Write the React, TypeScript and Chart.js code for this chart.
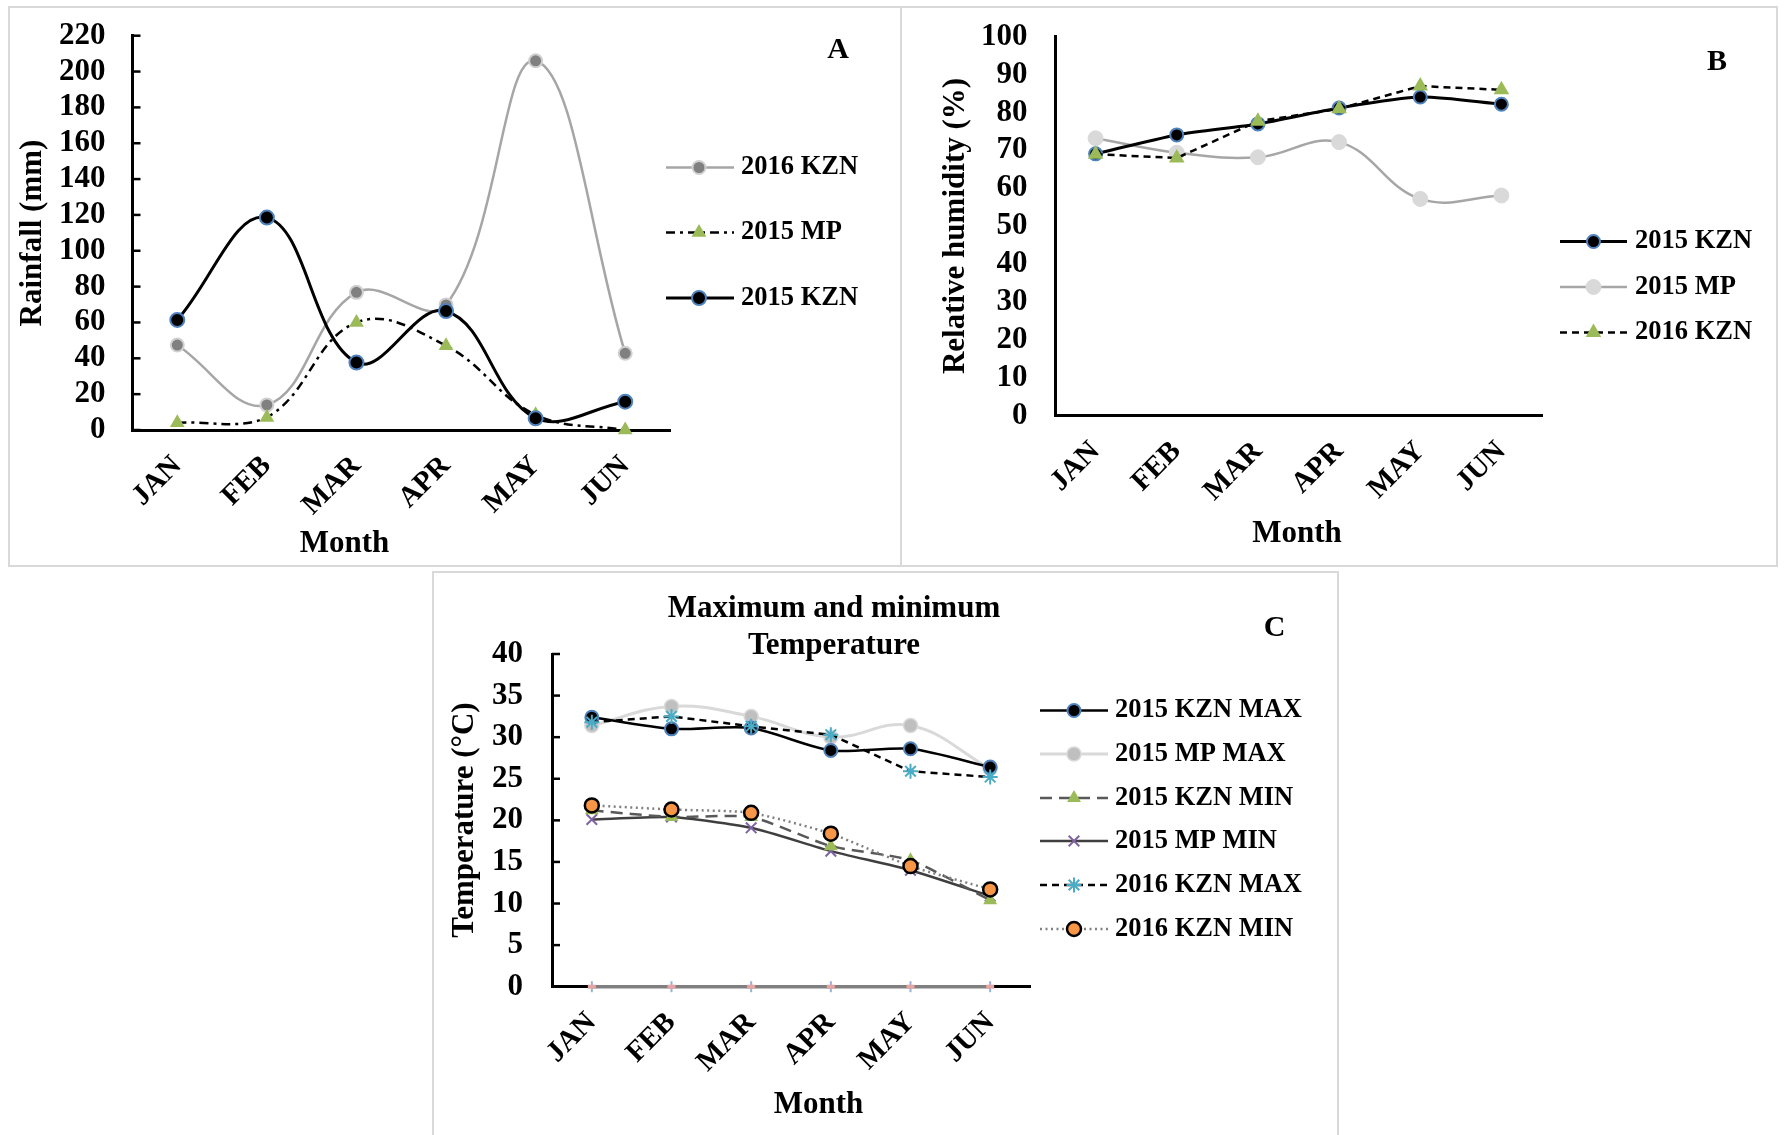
import React, { useEffect, useRef } from 'react';
import { Chart, registerables } from 'chart.js';
import { drawPoint } from 'chart.js/helpers';

Chart.register(...registerables);

// ---------- data ----------
const MONTHS = ['JAN', 'FEB', 'MAR', 'APR', 'MAY', 'JUN'];

// A: rainfall (mm)
const RAIN_AXIS = [0, 220, 20]; // min, max, step
const RAIN_2016_KZN = [47.4, 14.0, 76.8, 69.8, 206.0, 42.8];
const RAIN_2015_MP = [4.0, 7.0, 60.0, 47.0, 8.5, 0.0];
const RAIN_2015_KZN = [61.4, 118.5, 37.6, 66.4, 6.5, 15.8];

// B: relative humidity (%)
const RH_AXIS = [0, 100, 10];
const RH_2015_KZN = [69.1, 74.1, 77.0, 81.2, 84.1, 82.2];
const RH_2015_MP = [73.2, 69.4, 68.2, 72.2, 57.2, 58.1];
const RH_2016_KZN = [69.0, 68.0, 77.7, 81.0, 87.0, 86.0];

// C: maximum and minimum temperature (°C)
const TEMP_AXIS = [0, 40, 5];
const T_2015_KZN_MAX = [32.4, 31.0, 31.1, 28.4, 28.6, 26.4];
const T_2015_MP_MAX = [31.4, 33.7, 32.5, 30.0, 31.4, 26.2];
const T_2015_KZN_MIN = [21.2, 20.4, 20.4, 16.9, 15.2, 10.4];
const T_2015_MP_MIN = [20.1, 20.4, 19.1, 16.3, 14.0, 10.9];
const T_2016_KZN_MAX = [31.8, 32.5, 31.3, 30.3, 25.9, 25.2];
const T_2016_KZN_MIN = [21.8, 21.3, 20.9, 18.4, 14.5, 11.7];
// series without readings, plotted on the zero line
const T_2016_MP_MAX = [0, 0, 0, 0, 0, 0];
const T_2016_MP_MIN = [0, 0, 0, 0, 0, 0];

// ---------- styling ----------
const FONT = "'Liberation Serif', 'Times New Roman', Times, serif";
const BORDER = 2;
const GREEN = '#9bbb59';
const BLUE_EDGE = '#4f81bd';

type Txt = { text: string; x: number; y: number; size: number; rotate?: number; baseline?: CanvasTextBaseline };
type LegendSpec = { x0: number; x1: number; mx: number; tx: number; rows: number[]; size: number };
type PanelSpec = {
  key: string;
  box: { left: number; top: number; width: number; height: number };
  area: { left: number; top: number; right: number; bottom: number };
  yAxis: number[];
  yTickPad: number;
  innerTicks: number;
  texts: Txt[];
  legend: LegendSpec;
  datasets: any[];
};

const line = (label: string, data: number[], style: any) => ({
  label,
  data,
  fill: false,
  clip: false,
  pointHoverRadius: style.pointRadius,
  ...style,
});

const PANEL_A: PanelSpec = {
  key: 'A',
  box: { left: 8, top: 6, width: 894, height: 561 },
  area: { left: 132.5, top: 35.7, right: 670, bottom: 430 },
  yAxis: RAIN_AXIS,
  yTickPad: 27,
  innerTicks: 8,
  texts: [
    { text: 'Rainfall (mm)', x: 33, y: 233, size: 31, rotate: -90 },
    { text: 'Month', x: 344.5, y: 552, size: 31, baseline: 'alphabetic' },
    { text: 'A', x: 838, y: 58, size: 30, baseline: 'alphabetic' },
  ],
  legend: { x0: 666, x1: 734, mx: 699, tx: 741, rows: [167.5, 232.5, 298], size: 26.5 },
  datasets: [
    line('2016 KZN', RAIN_2016_KZN, {
      borderColor: '#a6a6a6', borderWidth: 2.5, tension: 0.4,
      pointStyle: 'circle', pointRadius: 6.5, pointBackgroundColor: '#808080',
      pointBorderColor: '#d0d0d0', pointBorderWidth: 2, order: 2,
    }),
    line('2015 MP', RAIN_2015_MP, {
      borderColor: '#000', borderWidth: 2.5, borderDash: [9, 5, 3, 5], tension: 0.4,
      pointStyle: 'triangle', pointRadius: 8.5, pointBackgroundColor: GREEN,
      pointBorderColor: GREEN, pointBorderWidth: 0, order: 1,
    }),
    line('2015 KZN', RAIN_2015_KZN, {
      borderColor: '#000', borderWidth: 3, tension: 0.4,
      pointStyle: 'circle', pointRadius: 7, pointBackgroundColor: '#000',
      pointBorderColor: BLUE_EDGE, pointBorderWidth: 2, order: 0,
    }),
  ],
};

const PANEL_B: PanelSpec = {
  key: 'B',
  box: { left: 900, top: 6, width: 878, height: 561 },
  area: { left: 1055, top: 36.8, right: 1542, bottom: 415.6 },
  yAxis: RH_AXIS,
  yTickPad: 27.5,
  innerTicks: 0,
  texts: [
    { text: 'Relative humidity (%)', x: 956, y: 226, size: 31, rotate: -90 },
    { text: 'Month', x: 1297, y: 542, size: 31, baseline: 'alphabetic' },
    { text: 'B', x: 1717, y: 69.5, size: 30, baseline: 'alphabetic' },
  ],
  legend: { x0: 1560, x1: 1627, mx: 1593.5, tx: 1635, rows: [241.5, 287, 332.5], size: 26.5 },
  datasets: [
    line('2015 KZN', RH_2015_KZN, {
      borderColor: '#000', borderWidth: 3, tension: 0.25,
      pointStyle: 'circle', pointRadius: 6.5, pointBackgroundColor: '#000',
      pointBorderColor: BLUE_EDGE, pointBorderWidth: 2, order: 1,
    }),
    line('2015 MP', RH_2015_MP, {
      borderColor: '#a6a6a6', borderWidth: 2.5, tension: 0.4,
      pointStyle: 'circle', pointRadius: 7.5, pointBackgroundColor: '#d9d9d9',
      pointBorderColor: '#d9d9d9', pointBorderWidth: 1, order: 2,
    }),
    line('2016 KZN', RH_2016_KZN, {
      borderColor: '#000', borderWidth: 2.5, borderDash: [7, 5], tension: 0,
      pointStyle: 'triangle', pointRadius: 9, pointBackgroundColor: GREEN,
      pointBorderColor: GREEN, pointBorderWidth: 0, order: 0,
    }),
  ],
};

const PANEL_C: PanelSpec = {
  key: 'C',
  box: { left: 432, top: 571, width: 907, height: 600 },
  area: { left: 552, top: 654, right: 1030, bottom: 986.7 },
  yAxis: TEMP_AXIS,
  yTickPad: 29,
  innerTicks: 8,
  texts: [
    { text: 'Maximum and minimum', x: 834, y: 617, size: 31, baseline: 'alphabetic' },
    { text: 'Temperature', x: 834, y: 654, size: 31, baseline: 'alphabetic' },
    { text: 'C', x: 1274.5, y: 636, size: 30, baseline: 'alphabetic' },
    { text: 'Temperature (°C)', x: 465, y: 820, size: 31, rotate: -90 },
    { text: 'Month', x: 818.5, y: 1113, size: 31, baseline: 'alphabetic' },
  ],
  legend: { x0: 1040, x1: 1108, mx: 1074, tx: 1115, rows: [710.5, 754, 798, 841, 885, 929], size: 26.5 },
  datasets: [
    line('2015 KZN MAX', T_2015_KZN_MAX, {
      borderColor: '#000', borderWidth: 2.5, tension: 0.25,
      pointStyle: 'circle', pointRadius: 6.5, pointBackgroundColor: '#000',
      pointBorderColor: BLUE_EDGE, pointBorderWidth: 2, order: 2,
    }),
    line('2015 MP MAX', T_2015_MP_MAX, {
      borderColor: '#d9d9d9', borderWidth: 3, tension: 0.4,
      pointStyle: 'circle', pointRadius: 7, pointBackgroundColor: '#bfbfbf',
      pointBorderColor: '#d9d9d9', pointBorderWidth: 1.5, order: 5,
    }),
    line('2015 KZN MIN', T_2015_KZN_MIN, {
      borderColor: '#595959', borderWidth: 2.5, borderDash: [12, 7], tension: 0.2,
      pointStyle: 'triangle', pointRadius: 8, pointBackgroundColor: GREEN,
      pointBorderColor: GREEN, pointBorderWidth: 0, order: 3,
    }),
    line('2015 MP MIN', T_2015_MP_MIN, {
      borderColor: '#3f3f3f', borderWidth: 2.5, tension: 0.2,
      pointStyle: 'crossRot', pointRadius: 7.5, pointBackgroundColor: '#8064a2',
      pointBorderColor: '#8064a2', pointBorderWidth: 2, order: 4,
    }),
    line('2016 KZN MAX', T_2016_KZN_MAX, {
      borderColor: '#000', borderWidth: 2.5, borderDash: [7, 5], tension: 0,
      pointStyle: 'star', pointRadius: 7.5, pointBackgroundColor: '#4bacc6',
      pointBorderColor: '#4bacc6', pointBorderWidth: 2, order: 1,
    }),
    line('2016 KZN MIN', T_2016_KZN_MIN, {
      borderColor: '#808080', borderWidth: 2.5, borderDash: [2, 3.5], tension: 0.2,
      pointStyle: 'circle', pointRadius: 7, pointBackgroundColor: '#f79646',
      pointBorderColor: '#000', pointBorderWidth: 2.5, order: 0,
    }),
    line('2016 MP MAX', T_2016_MP_MAX, {
      borderColor: '#808080', borderWidth: 3.5, tension: 0,
      pointStyle: 'line', pointRotation: 90, pointRadius: 5.5, pointBackgroundColor: '#95b3d7',
      pointBorderColor: '#95b3d7', pointBorderWidth: 2, order: 7, noLegend: true,
    }),
    line('2016 MP MIN', T_2016_MP_MIN, {
      borderColor: '#808080', borderWidth: 0, showLine: false, tension: 0,
      pointStyle: 'line', pointRadius: 4, pointBackgroundColor: '#e6a5a5',
      pointBorderColor: '#e6a5a5', pointBorderWidth: 4, order: 6, noLegend: true,
    }),
  ],
};

const PANELS = [PANEL_A, PANEL_B, PANEL_C];

// Panel decorations: inside tick marks, free text, and the line+marker legend
function decor(spec: PanelSpec, ox: number, oy: number) {
  return {
    id: 'decor' + spec.key,
    beforeDatasetsDraw(chart: any) {
      if (!spec.innerTicks) return;
      const ctx = chart.ctx;
      const ys = chart.scales.y;
      const left = chart.chartArea.left;
      ctx.save();
      ctx.strokeStyle = '#000';
      ctx.lineWidth = 2.5;
      ys.ticks.forEach((_: any, i: number) => {
        const y = ys.getPixelForTick(i);
        ctx.beginPath();
        ctx.moveTo(left, y);
        ctx.lineTo(left + spec.innerTicks, y);
        ctx.stroke();
      });
      ctx.restore();
    },
    afterDraw(chart: any) {
      const ctx = chart.ctx as CanvasRenderingContext2D;
      ctx.save();
      ctx.fillStyle = '#000';
      for (const t of spec.texts) {
        ctx.save();
        ctx.font = `bold ${t.size}px ${FONT}`;
        ctx.textAlign = 'center';
        ctx.textBaseline = t.baseline || 'middle';
        ctx.translate(t.x - ox, t.y - oy);
        if (t.rotate) ctx.rotate((t.rotate * Math.PI) / 180);
        ctx.fillText(t.text, 0, 0);
        ctx.restore();
      }
      const lg = spec.legend;
      const items = spec.datasets.filter((d) => !d.noLegend);
      items.forEach((d, i) => {
        const y = lg.rows[i] - oy;
        ctx.save();
        ctx.strokeStyle = d.borderColor;
        ctx.lineWidth = d.borderWidth;
        ctx.setLineDash(d.borderDash || []);
        ctx.beginPath();
        ctx.moveTo(lg.x0 - ox, y);
        ctx.lineTo(lg.x1 - ox, y);
        ctx.stroke();
        ctx.setLineDash([]);
        ctx.fillStyle = d.pointBackgroundColor;
        ctx.strokeStyle = d.pointBorderColor;
        ctx.lineWidth = d.pointBorderWidth;
        drawPoint(ctx, {
          pointStyle: d.pointStyle,
          rotation: d.pointRotation || 0,
          radius: d.pointRadius,
          borderWidth: d.pointBorderWidth,
        } as any, lg.mx - ox, y);
        ctx.fillStyle = '#000';
        ctx.font = `bold ${lg.size}px ${FONT}`;
        ctx.textAlign = 'left';
        ctx.textBaseline = 'middle';
        ctx.fillText(d.label, lg.tx - ox, y);
        ctx.restore();
      });
      ctx.restore();
    },
  };
}

function buildChart(canvas: HTMLCanvasElement, spec: PanelSpec): Chart {
  const ox = spec.box.left + BORDER;
  const oy = spec.box.top + BORDER;
  const cw = spec.box.width - 2 * BORDER;
  const ch = spec.box.height - 2 * BORDER;
  const a = {
    left: spec.area.left - ox,
    top: spec.area.top - oy,
    right: spec.area.right - ox,
    bottom: spec.area.bottom - oy,
  };
  return new Chart(canvas, {
    type: 'line',
    data: {
      labels: MONTHS,
      datasets: spec.datasets.map((d) => ({ ...d, data: [...d.data] })),
    },
    options: {
      responsive: false,
      animation: false,
      devicePixelRatio: 1,
      events: [],
      layout: { padding: { left: 0, top: a.top, right: cw - a.right, bottom: 0 } },
      plugins: { legend: { display: false }, tooltip: { enabled: false } },
      scales: {
        x: {
          type: 'category',
          offset: true,
          grid: { display: false, drawTicks: false },
          border: { display: true, color: '#000', width: 3 },
          ticks: {
            autoSkip: false,
            minRotation: 45,
            maxRotation: 45,
            padding: 19,
            color: '#000',
            font: { family: FONT, size: 29, weight: 'bold' },
          },
          afterFit: (s: any) => {
            s.height = ch - a.bottom;
            s.paddingLeft = 0;
            s.paddingRight = 0;
          },
        },
        y: {
          min: spec.yAxis[0],
          max: spec.yAxis[1],
          grid: { display: false, drawTicks: false },
          border: { display: true, color: '#000', width: 3 },
          ticks: {
            stepSize: spec.yAxis[2],
            autoSkip: false,
            padding: spec.yTickPad,
            color: '#000',
            font: { family: FONT, size: 31, weight: 'bold', lineHeight: 1 },
          },
          afterFit: (s: any) => {
            s.width = a.left;
            s.paddingTop = 0;
            s.paddingBottom = 0;
          },
        },
      },
    } as any,
    plugins: [decor(spec, ox, oy)],
  });
}

function ChartPanel({ spec }: { spec: PanelSpec }) {
  const ref = useRef<HTMLCanvasElement>(null);
  useEffect(() => {
    const chart = buildChart(ref.current as HTMLCanvasElement, spec);
    return () => chart.destroy();
  }, [spec]);
  const w = spec.box.width - 2 * BORDER;
  const h = spec.box.height - 2 * BORDER;
  return (
    <div
      style={{
        position: 'absolute',
        left: spec.box.left,
        top: spec.box.top,
        width: spec.box.width,
        height: spec.box.height,
        border: `${BORDER}px solid #d9d9d9`,
        boxSizing: 'border-box',
      }}
    >
      <canvas ref={ref} width={w} height={h} style={{ display: 'block', width: w, height: h }} />
    </div>
  );
}

export default function App() {
  return (
    <div
      style={{
        position: 'absolute',
        left: 0,
        top: 0,
        width: 1784,
        height: 1135,
        background: '#fff',
        overflow: 'hidden',
      }}
    >
      {PANELS.map((p) => (
        <ChartPanel key={p.key} spec={p} />
      ))}
    </div>
  );
}
